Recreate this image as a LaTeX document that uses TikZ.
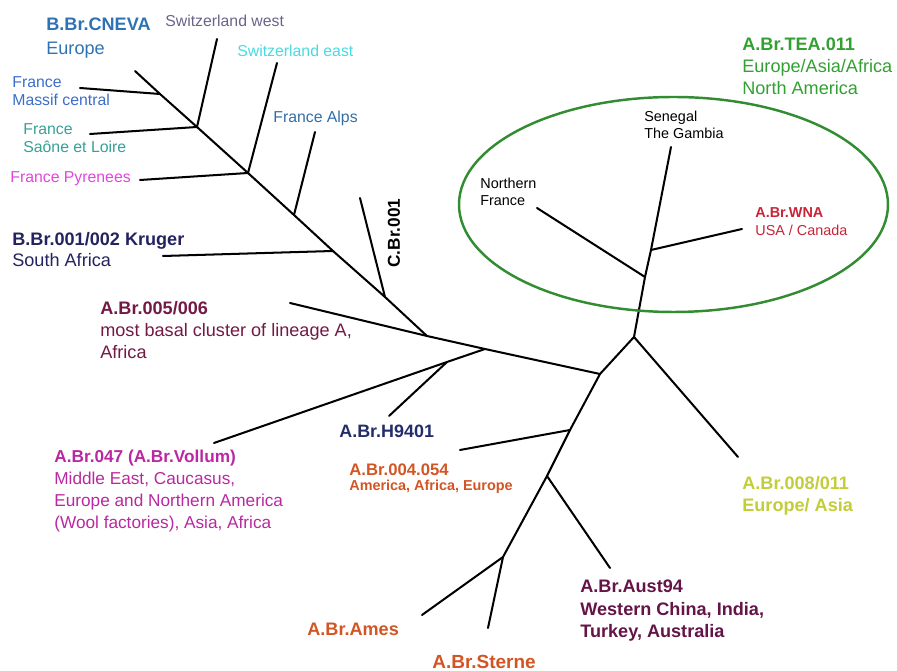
\documentclass[tikz,border=0pt]{standalone}
\usepackage{fontspec}
\setmainfont{Liberation Sans}
\definecolor{cneva}{RGB}{45,115,180}
\definecolor{swwest}{RGB}{105,100,140}
\definecolor{sweast}{RGB}{70,220,225}
\definecolor{frmc}{RGB}{60,110,200}
\definecolor{frsl}{RGB}{55,160,150}
\definecolor{frpy}{RGB}{225,70,220}
\definecolor{fralps}{RGB}{50,110,165}
\definecolor{kruger}{RGB}{35,35,95}
\definecolor{basal}{RGB}{115,25,70}
\definecolor{vollum}{RGB}{185,40,160}
\definecolor{hnavy}{RGB}{35,45,105}
\definecolor{ames}{RGB}{210,85,35}
\definecolor{aust}{RGB}{100,20,70}
\definecolor{ygreen}{RGB}{195,205,55}
\definecolor{tea}{RGB}{50,160,50}
\definecolor{wna}{RGB}{200,35,55}
\definecolor{ring}{RGB}{50,140,50}

\begin{document}
\begin{tikzpicture}[x=0.02cm,y=-0.02cm,branch/.style={line width=1.15pt,line cap=round},lab/.style={anchor=north west,inner sep=0pt,align=left,font=\fontsize{10.3}{12.5}\selectfont},labM/.style={lab,font=\fontsize{9}{10.3}\selectfont},labS/.style={lab,font=\fontsize{8.2}{9.7}\selectfont}]
\useasboundingbox (0,0) rectangle (897,671);

% backbone
\coordinate (t0) at (135,71);
\coordinate (j1) at (160,94);
\coordinate (j2) at (197,127);
\coordinate (j3) at (248,173);
\coordinate (j4) at (294,215);
\coordinate (j5) at (333,251);
\coordinate (j6) at (385,297);
\coordinate (j7) at (427,336);
\coordinate (j8) at (485,349);
\coordinate (j9) at (447,362);
\coordinate (j10) at (600,374);
\coordinate (j11) at (634,337);
\coordinate (j12) at (645,277);
\coordinate (j13) at (651,250);
\coordinate (j14) at (570,430);
\coordinate (j15) at (547,476);
\coordinate (j16) at (503,557);

% tips
\coordinate (mc) at (80,88);
\coordinate (sw) at (217,39);
\coordinate (sl) at (90,134);
\coordinate (se) at (277,63);
\coordinate (py) at (140,180);
\coordinate (alps) at (315,132);
\coordinate (kr) at (163,256);
\coordinate (cbr) at (360,198);
\coordinate (a05) at (290,303);
\coordinate (v047) at (214,443);
\coordinate (h94) at (389,416);
\coordinate (sen) at (671,147);
\coordinate (nf) at (537,208);
\coordinate (wnat) at (742,229);
\coordinate (a08) at (738,457);
\coordinate (a04) at (460,450);
\coordinate (aus) at (610,568);
\coordinate (amest) at (422,615);
\coordinate (ster) at (488,628);

\draw[branch] (t0) -- (j1) -- (j2) -- (j3) -- (j4) -- (j5) -- (j6) -- (j7) -- (j8) -- (j10);
\draw[branch] (j10) -- (j11) -- (j12) -- (j13) -- (sen);
\draw[branch] (j10) -- (j14) -- (j15) -- (j16);
\draw[branch] (j1) -- (mc);
\draw[branch] (j2) -- (sw);
\draw[branch] (j2) -- (sl);
\draw[branch] (j3) -- (se);
\draw[branch] (j3) -- (py);
\draw[branch] (j4) -- (alps);
\draw[branch] (j5) -- (kr);
\draw[branch] (j6) -- (cbr);
\draw[branch] (j7) -- (a05);
\draw[branch] (j8) -- (j9) -- (v047);
\draw[branch] (j9) -- (h94);
\draw[branch] (j11) -- (a08);
\draw[branch] (j12) -- (nf);
\draw[branch] (j13) -- (wnat);
\draw[branch] (j14) -- (a04);
\draw[branch] (j15) -- (aus);
\draw[branch] (j16) -- (amest);
\draw[branch] (j16) -- (ster);

% TEA cluster
\draw[ring,line width=1.4pt] (673.5,204.5) ellipse [x radius=214.5,y radius=107.5];

% labels
\node[lab,text=cneva,font=\fontsize{10.3}{13.4}\selectfont] (cnevaL) at (46,18) {\textbf{B.Br.CNEVA}\\Europe};
\node[labM,text=swwest] (swL) at (165,15) {Switzerland west};
\node[labM,text=sweast] (seL) at (237,45) {Switzerland east};
\node[labM,text=frmc] (mcL) at (12,76) {France\\Massif central};
\node[labM,text=frsl,font=\fontsize{9}{10.6}\selectfont] (slL) at (23,123) {France\\Saône et Loire};
\node[labM,text=frpy] (pyL) at (10,171) {France Pyrenees};
\node[labM,text=fralps] (alpsL) at (273,111) {France Alps};
\node[lab,text=kruger,font=\fontsize{10.3}{11.9}\selectfont] (krL) at (12,232) {\textbf{B.Br.001/002 Kruger}\\South Africa};
\node[inner sep=0pt,rotate=90,font=\fontsize{9.8}{11}\selectfont\bfseries] (cbrL) at (394,233) {C.Br.001};
\node[lab,text=basal] (a05L) at (100,301) {\textbf{A.Br.005/006}\\most basal cluster of lineage A,\\Africa};
\node[lab,text=vollum,font=\fontsize{9.8}{12.5}\selectfont] (v047L) at (54,450) {\textbf{A.Br.047 (A.Br.Vollum)}\\Middle East, Caucasus,\\Europe and Northern America\\(Wool factories), Asia, Africa};
\node[lab,text=hnavy,font=\fontsize{10.2}{11}\selectfont\bfseries] (h94L) at (339,425) {A.Br.H9401};
\node[lab,text=ames,font=\fontsize{9.5}{8.6}\selectfont\bfseries] (a04L) at (349,463) {A.Br.004.054\\{\fontsize{8.2}{8.6}\selectfont America, Africa, Europe}};
\node[lab,text=ames,font=\fontsize{10.3}{11}\selectfont\bfseries] (amesL) at (307,623) {A.Br.Ames};
\node[lab,text=ames,font=\fontsize{10.8}{11}\selectfont\bfseries] (sterL) at (432,655) {A.Br.Sterne};
\node[lab,text=aust,font=\fontsize{10.3}{12.7}\selectfont\bfseries] (ausL) at (580,580) {A.Br.Aust94\\Western China, India,\\Turkey, Australia};
\node[lab,text=ygreen,font=\fontsize{10.3}{12.5}\selectfont\bfseries] (a08L) at (742,476) {A.Br.008/011\\Europe/ Asia};
\node[lab,text=tea] (teaL) at (742,38) {\textbf{A.Br.TEA.011}\\Europe/Asia/Africa\\North America};
\node[labS] (senL) at (644,111) {Senegal\\The Gambia};
\node[labS] (nfL) at (480,178) {Northern\\France};
\node[labS,text=wna,font=\fontsize{8.2}{10.2}\selectfont] (wnaL) at (755,207) {\textbf{A.Br.WNA}\\USA / Canada};
\end{tikzpicture}
\end{document}
